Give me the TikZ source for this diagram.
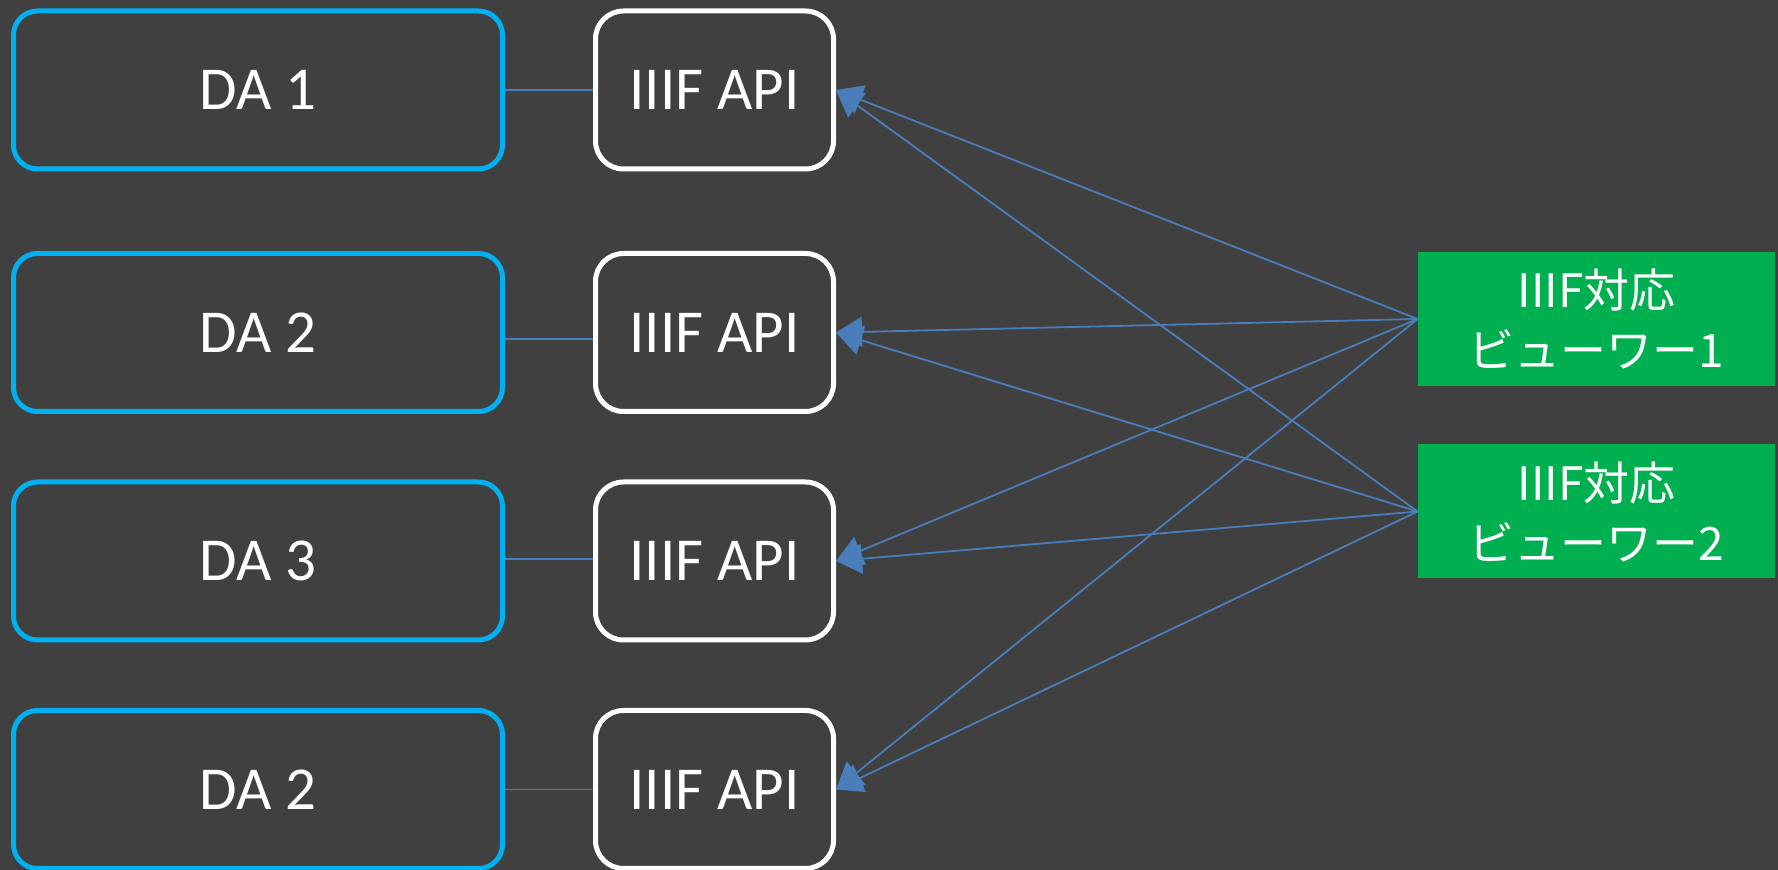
\documentclass[tikz,border=0pt]{standalone}
\usepackage{fontspec}
\setmainfont{Carlito}
\newfontfamily\jpfont{Noto Sans CJK JP}
\usetikzlibrary{arrows.meta}
\definecolor{bgcol}{HTML}{404040}
\definecolor{dacyan}{HTML}{00B0F0}
\definecolor{viewgreen}{HTML}{00B050}
\definecolor{linkblue}{HTML}{4A7EBB}
\begin{document}
\begin{tikzpicture}[x=0.5pt,y=-0.5pt,
  dabox/.style={draw=dacyan, line width=2.5pt, rounded corners=12pt,
    minimum width=244.5pt, minimum height=79pt, inner sep=0pt,
    text=white, font=\fontsize{30.5}{36}\selectfont},
  apibox/.style={draw=white, line width=2.5pt, rounded corners=14pt,
    minimum width=119pt, minimum height=79pt, inner sep=0pt,
    text=white, font=\fontsize{30.5}{36}\selectfont},
  viewbox/.style={fill=viewgreen, minimum width=178.5pt, minimum height=67pt,
    inner sep=0pt, align=center, text=white,
    font=\jpfont\fontsize{23}{30}\selectfont},
  link/.style={draw=linkblue, line width=0.9pt},
  arr/.style={link, -{Triangle[length=13pt,width=15pt]}}]
\fill[bgcol] (0,0) rectangle (1778,870);
\useasboundingbox (0,0) rectangle (1778,870);

\node[dabox] (da1) at (258,90) {DA 1};
\node[dabox] (da2) at (258,332.5) {DA 2};
\node[dabox] (da3) at (258,561) {DA 3};
\node[dabox] (da4) at (258,789.5) {DA 2};

\node[apibox] (api1) at (714.5,90) {IIIF API};
\node[apibox] (api2) at (714.5,332.5) {IIIF API};
\node[apibox] (api3) at (714.5,561) {IIIF API};
\node[apibox] (api4) at (714.5,789.5) {IIIF API};

\node[viewbox] (v1) at (1596.5,319) {IIIF対応\\ビューワー1};
\node[viewbox] (v2) at (1596.5,511.5) {IIIF対応\\ビューワー2};

\draw[link] (da1.east) -- (api1.west);
\draw[link] ([yshift=-3.25pt]da2.east) -- ([yshift=-3.25pt]api2.west);
\draw[link] ([yshift=1pt]da3.east) -- ([yshift=1pt]api3.west);
\draw[link] (da4.east) -- (api4.west);

\foreach \v in {v1,v2}{
  \foreach \a in {api1,api2,api3,api4}{
    \draw[arr] (\v.west) -- (\a.east);
  }
}
\end{tikzpicture}
\end{document}
